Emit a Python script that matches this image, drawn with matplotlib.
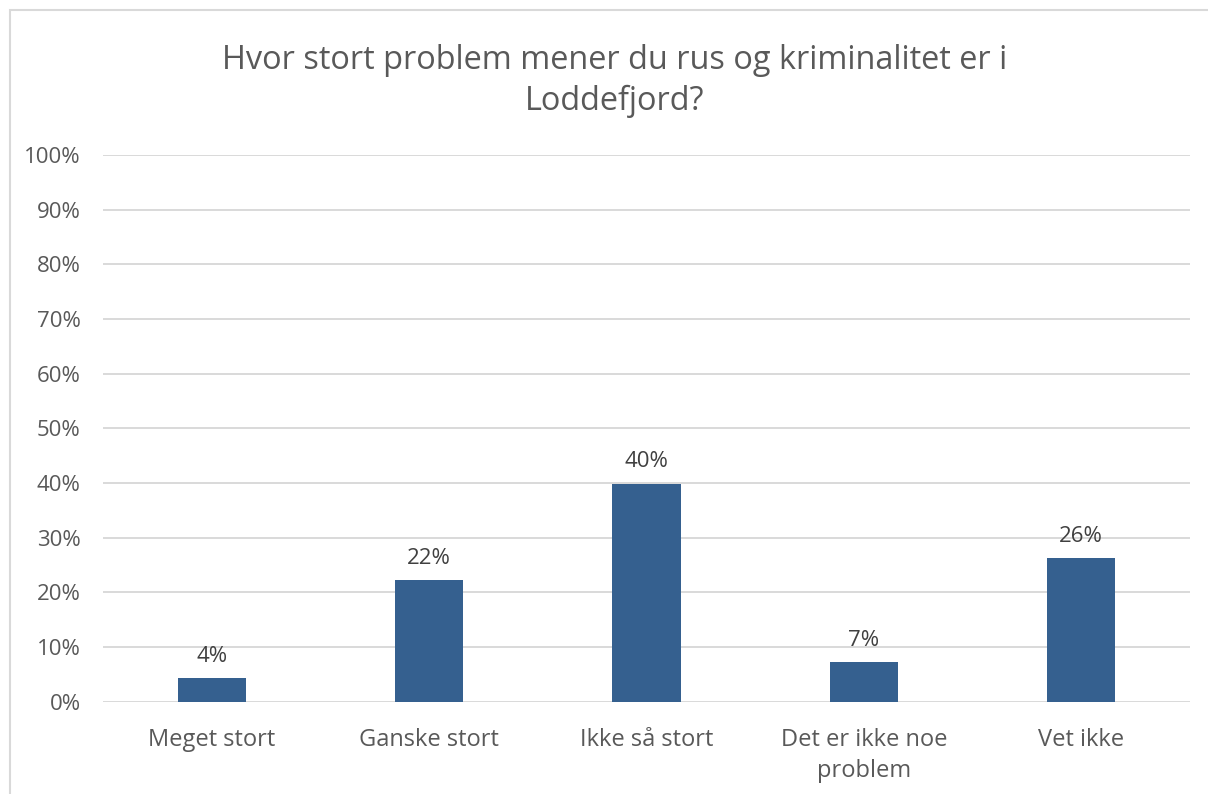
import matplotlib.pyplot as plt
from matplotlib.patches import Rectangle

# data
categories = ['Meget stort', 'Ganske stort', 'Ikke så stort', 'Det er ikke noe\nproblem', 'Vet ikke']
values = [0.043, 0.223, 0.399, 0.073, 0.263]
labels = ['4%', '22%', '40%', '7%', '26%']
yticks = [i / 10 for i in range(11)]
title = 'Hvor stort problem mener du rus og kriminalitet er i\nLoddefjord?'

plt.rcParams['font.family'] = ['Open Sans', 'DejaVu Sans']

fig = plt.figure(figsize=(12.08, 7.94), dpi=100)
ax = fig.add_axes([103 / 1208, 1 - 701.7 / 794, 1087 / 1208, 546.7 / 794])

# chart border (cut off at right and bottom like the screenshot)
fig.patches.append(Rectangle((10 / 1208, -0.1), 1.2, 1 - 10 / 794 + 0.1,
                             transform=fig.transFigure, fill=False,
                             edgecolor='#d9d9d9', linewidth=1.5))

x = range(len(categories))
bars = ax.bar(x, values, width=0.313, color='#35608f', zorder=3)

for b, lab in zip(bars, labels):
    ax.annotate(lab, (b.get_x() + b.get_width() / 2, b.get_height()),
                xytext=(0, 8), textcoords='offset points',
                ha='center', va='bottom', fontsize=16, color='#404040')

ax.set_xlim(-0.5, len(categories) - 0.5)
ax.set_ylim(0, 1)
ax.set_yticks(yticks)
ax.set_yticklabels([f'{int(round(t * 100))}%' for t in yticks])
ax.set_xticks(list(x))
ax.set_xticklabels(categories, linespacing=1.4)
ax.tick_params(axis='both', length=0, labelcolor='#595959')
ax.tick_params(axis='y', pad=16, labelsize=16)
ax.tick_params(axis='x', pad=19, labelsize=17)
ax.grid(axis='y', color='#d9d9d9', linewidth=1.4, zorder=0)
for s in ax.spines.values():
    s.set_visible(False)

fig.text(615 / 1208, 1 - 81 / 794, title, ha='center', va='center',
         fontsize=23.4, color='#595959', linespacing=1.3)

fig.savefig('out.png', dpi=100)
